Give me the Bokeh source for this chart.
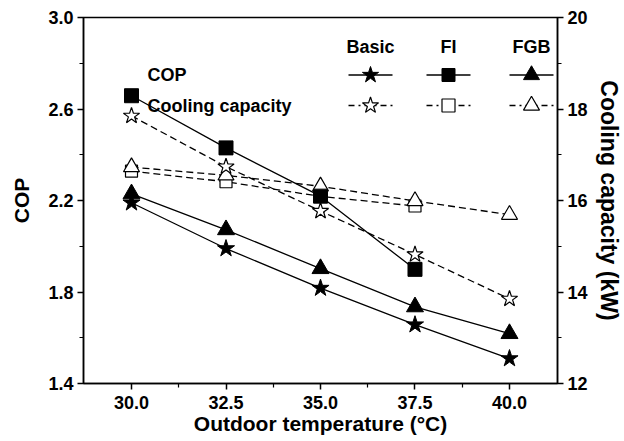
from bokeh.plotting import figure
from bokeh.models import Range1d, LinearAxis, FixedTicker, Label
from bokeh.embed import file_html
from bokeh.resources import INLINE

# ---- data ----
temps = [30.0, 32.5, 35.0, 37.5, 40.0]
temps_fi = [30.0, 32.5, 35.0, 37.5]

cop_basic = [2.19, 1.99, 1.817, 1.657, 1.509]
cop_fi = [2.658, 2.43, 2.219, 1.899]
cop_fgb = [2.229, 2.072, 1.902, 1.735, 1.618]

cc_basic = [17.85, 16.74, 15.77, 14.82, 13.85]
cc_fi = [16.64, 16.41, 16.09, 15.88]
cc_fgb = [16.73, 16.55, 16.31, 15.99, 15.69]

x_ticks = [30.0, 32.5, 35.0, 37.5, 40.0]
x_tick_labels = ["30.0", "32.5", "35.0", "37.5", "40.0"]
x_minor = [31.25, 33.75, 36.25, 38.75]
cop_ticks = [1.4, 1.8, 2.2, 2.6, 3.0]
cop_tick_labels = ["1.4", "1.8", "2.2", "2.6", "3.0"]
cop_minor = [1.6, 2.0, 2.4, 2.8]
cc_ticks = [12, 14, 16, 18, 20]
cc_minor = [13, 15, 17, 19]

series_names = ["Basic", "FI", "FGB"]
row_names = ["COP", "Cooling capacity"]

FONT = "Liberation Sans"
X0, X1 = 28.73, 41.27
Y0, Y1 = 1.4, 3.0

p = figure(frame_width=474, frame_height=366, output_backend="svg", toolbar_location=None,
           x_range=Range1d(X0, X1), y_range=Range1d(Y0, Y1),
           min_border_left=83, min_border_top=17, min_border_right=60, min_border_bottom=48)
p.extra_y_ranges = {"cc": Range1d(12, 20)}
p.grid.visible = False
p.outline_line_color = "black"
p.outline_line_width = 1.5
p.background_fill_color = "white"
p.border_fill_color = "white"

def style_axis(ax, ticks, minor, size):
    ax.ticker = FixedTicker(ticks=ticks, minor_ticks=minor)
    ax.major_tick_in = 0
    ax.major_tick_out = 6
    ax.minor_tick_in = 0
    ax.minor_tick_out = 4
    ax.axis_line_width = 1.5
    ax.major_tick_line_width = 1.5
    ax.minor_tick_line_width = 1.2
    ax.major_label_text_font = FONT
    ax.major_label_text_font_style = "bold"
    ax.major_label_text_font_size = "18px"
    ax.major_label_text_color = "black"
    ax.axis_label_text_font = FONT
    ax.axis_label_text_font_style = "bold"
    ax.axis_label_text_font_size = size
    ax.axis_label_text_color = "black"

style_axis(p.xaxis[0], x_ticks, x_minor, "21px")
p.xaxis[0].major_label_overrides = {t: s for t, s in zip(x_ticks, x_tick_labels)}
p.xaxis[0].axis_label = "Outdoor temperature (°C)"
p.xaxis[0].major_label_standoff = 6
p.xaxis[0].axis_label_standoff = 0
style_axis(p.yaxis[0], cop_ticks, cop_minor, "21px")
p.yaxis[0].major_label_overrides = {t: s for t, s in zip(cop_ticks, cop_tick_labels)}
p.yaxis[0].axis_label = "COP"
p.yaxis[0].axis_label_standoff = 12
p.yaxis[0].major_label_standoff = 4

rax = LinearAxis(y_range_name="cc")
style_axis(rax, cc_ticks, cc_minor, "23px")
rax.axis_label = "Cooling capacity (kW)"
rax.axis_label_standoff = 5
rax.major_label_standoff = 4
p.add_layout(rax, "right")

DASH = "7 4"
LW = 1.3

# COP (solid, filled markers)
p.line(temps, cop_basic, line_color="black", line_width=LW)
p.line(temps_fi, cop_fi, line_color="black", line_width=LW)
p.line(temps, cop_fgb, line_color="black", line_width=LW)
# Cooling capacity (dashed, open markers)
p.line(temps, cc_basic, y_range_name="cc", line_color="black", line_width=LW, line_dash=DASH)
p.line(temps_fi, cc_fi, y_range_name="cc", line_color="black", line_width=LW, line_dash=DASH)
p.line(temps, cc_fgb, y_range_name="cc", line_color="black", line_width=LW, line_dash=DASH)

p.scatter(temps_fi, cc_fi, y_range_name="cc", marker="square", size=12, fill_color="white", line_color="black", line_width=1.2)
p.scatter(temps, cc_fgb, y_range_name="cc", marker="triangle", size=16, fill_color="white", line_color="black", line_width=1.2)
p.scatter(temps, cc_basic, y_range_name="cc", marker="star", size=17, fill_color="white", line_color="black", line_width=1.2)
p.scatter(temps_fi, cop_fi, marker="square", size=14, fill_color="black", line_color="black")
p.scatter(temps, cop_fgb, marker="triangle", size=17, fill_color="black", line_color="black")
p.scatter(temps, cop_basic, marker="star", size=18, fill_color="black", line_color="black")

# ---- custom legend (positions in frame pixels, converted to data) ----
FRAME_L, FRAME_T, FRAME_W, FRAME_H = 83, 19, 474, 366
def dx(px):
    return X0 + (px - FRAME_L) / FRAME_W * (X1 - X0)
def dy(py):
    return Y1 - (py - FRAME_T) / FRAME_H * (Y1 - Y0)

col_px = [370, 448, 531]
header_py, cop_py, cc_py = 48, 76.5, 107
half = 22
markers = ["star", "square", "triangle"]
msize = [17, 13, 16]

for name, cx in zip(series_names, col_px):
    p.add_layout(Label(x=dx(cx), y=dy(header_py), text=name, text_align="center", text_baseline="middle",
                       text_font=FONT, text_font_style="bold", text_font_size="18px", text_color="black"))

for cx, mk, ms in zip(col_px, markers, msize):
    p.line([dx(cx - half), dx(cx + half)], [dy(cop_py)] * 2, line_color="black", line_width=LW)
    p.scatter([dx(cx)], [dy(cop_py)], marker=mk, size=ms, fill_color="black", line_color="black")
    p.line([dx(cx - half), dx(cx + half)], [dy(cc_py)] * 2, line_color="black", line_width=LW, line_dash="6 4 2 4")
    p.scatter([dx(cx)], [dy(cc_py)], marker=mk, size=ms, fill_color="white", line_color="black", line_width=1.2)

for name, py in zip(row_names, [cop_py, cc_py]):
    p.add_layout(Label(x=dx(147), y=dy(py), text=name, text_align="left", text_baseline="middle",
                       text_font=FONT, text_font_style="bold", text_font_size="18px", text_color="black"))

open("out.html", "w").write(file_html(p, INLINE))
